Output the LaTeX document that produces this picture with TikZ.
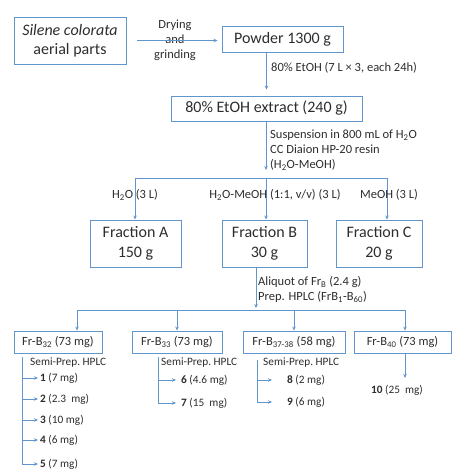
\documentclass[tikz,border=0pt]{standalone}
\usepackage{fontspec}
\setmainfont{Carlito}
\usetikzlibrary{arrows.meta}
\definecolor{bl}{RGB}{96,150,205}
\definecolor{tx}{RGB}{45,45,45}
\tikzset{
  box/.style={draw=bl, line width=0.9pt, text=tx, align=center, inner sep=0pt},
  big/.style={font=\fontsize{16}{19.5}\selectfont},
  mid/.style={font=\fontsize{12.5}{14}\selectfont},
  lab/.style={text=tx, font=\fontsize{12.5}{15}\selectfont, inner sep=0pt},
  sm/.style={text=tx, font=\fontsize{11.3}{13}\selectfont, inner sep=0pt},
  ln/.style={draw=bl, line width=0.7pt},
  arr/.style={ln, -{Stealth[length=4pt,width=3.5pt]}},
}
\begin{document}
\begin{tikzpicture}[x=1pt,y=-1pt]
\useasboundingbox (0,0) rectangle (452,469);
% main boxes
\node[box,big,minimum width=112pt,minimum height=47pt] (sil) at (70,40.5) {\textit{Silene colorata}\\aerial parts};
\node[box,big,minimum width=121pt,minimum height=26pt] (pow) at (282.5,39) {Powder 1300 g};
\node[box,big,minimum width=191pt,minimum height=25pt] (ext) at (266.5,108.5) {80\% EtOH extract (240 g)};
\node[box,big,minimum width=91pt,minimum height=47pt] (fa) at (135.5,243.5) {Fraction A\\150 g};
\node[box,big,minimum width=85pt,minimum height=47pt] (fb) at (264.5,243.5) {Fraction B\\30 g};
\node[box,big,minimum width=86pt,minimum height=47pt] (fc) at (379,243.5) {Fraction C\\20 g};
\node[box,mid,minimum width=88pt,minimum height=22pt] (b32) at (58,342) {Fr-B\textsubscript{32} (73 mg)};
\node[box,mid,minimum width=90pt,minimum height=22pt] (b33) at (177,342) {Fr-B\textsubscript{33} (73 mg)};
\node[box,mid,minimum width=102pt,minimum height=22pt] (b37) at (294,342) {Fr-B\textsubscript{37-38} (58 mg)};
\node[box,mid,minimum width=97pt,minimum height=22pt] (b40) at (402.5,342) {Fr-B\textsubscript{40} (73 mg)};

% step 1
\node[lab,align=center] (dry) at (175,40) {Drying\\and\\grinding};
\draw[arr,shorten <=11pt,shorten >=4pt] (sil.east) -- (sil.east -| pow.west);
% step 2
\draw[arr,shorten >=6pt] (pow.south -| ext.north) -- (ext.north);
\node[lab,anchor=west] (l2) at (271,68) {80\% EtOH (7 L × 3, each 24h)};
% step 3
\node[lab,anchor=west,align=left] (l3) at (270,150) {Suspension in 800 mL of H\textsubscript{2}O\\CC Diaion HP-20 resin\\(H\textsubscript{2}O-MeOH)};
\coordinate (barL) at (135,178);
\coordinate (barM) at (266,178);
\coordinate (barR) at (387,178);
\draw[arr,shorten >=8pt] (ext.south -| barM) -- (barM);
\draw[ln] (barL) -- (barR);
\draw[arr] (barL) -- (barL |- fa.north);
\draw[arr] (barM) -- (barM |- fb.north);
\draw[arr] (barR) -- (barR |- fc.north);
\node[lab] (la) at (135,195) {H\textsubscript{2}O (3 L)};
\node[lab] (lb) at (275,195) {H\textsubscript{2}O-MeOH (1:1, v/v) (3 L)};
\node[lab] (lc) at (389,195) {MeOH (3 L)};
% step 4
\coordinate (bar2M) at (256,310);
\coordinate (c1) at (77,310);
\coordinate (c2) at (177,310);
\coordinate (c3) at (294,310);
\coordinate (c4) at (405,310);
\draw[arr,shorten >=2pt] (fb.south -| bar2M) -- (bar2M);
\draw[ln] (c1) -- (c4);
\draw[arr] (c1) -- (c1 |- b32.north);
\draw[arr] (c2) -- (c2 |- b33.north);
\draw[arr] (c3) -- (c3 |- b37.north);
\draw[arr] (c4) -- (c4 |- b40.north);
\node[lab,anchor=west,align=left] (l4) at (258,289.5) {Aliquot of Fr\textsubscript{B} (2.4 g)\\Prep. HPLC (FrB\textsubscript{1}-B\textsubscript{60})};

% B32 branch
\node[sm,anchor=west] (s1) at (30,363) {Semi-Prep.\ HPLC};
\coordinate (v1) at (22,357);
\node[sm,anchor=west] (i1) at (40,378) {\textbf{1} (7 mg)};
\node[sm,anchor=west] (i2) at (40,399) {\textbf{2} (2.3\ \ mg)};
\node[sm,anchor=west] (i3) at (40,420) {\textbf{3} (10 mg)};
\node[sm,anchor=west] (i4) at (40,440) {\textbf{4} (6 mg)};
\node[sm,anchor=west] (i5) at (40,464) {\textbf{5} (7 mg)};
\draw[arr,shorten >=2pt] (v1) |- (i5.west);
\foreach \i in {i1,i2,i3,i4} \draw[arr,shorten >=2pt] (v1 |- \i.west) -- (\i.west);

% B33 branch
\node[sm,anchor=west] (s2) at (161,363) {Semi-Prep.\ HPLC};
\coordinate (v2) at (158,357);
\node[sm,anchor=west] (i6) at (181,380) {\textbf{6} (4.6 mg)};
\node[sm,anchor=west] (i7) at (181,403) {\textbf{7} (15\ \ mg)};
\draw[arr,shorten >=5pt] (v2) |- (i7.west);
\draw[arr,shorten >=5pt] (v2 |- i6.west) -- (i6.west);

% B37-38 branch
\node[sm,anchor=west] (s3) at (263,363) {Semi-Prep.\ HPLC};
\coordinate (v3) at (257,360);
\node[sm,anchor=west] (i8) at (287,380) {\textbf{8} (2 mg)};
\node[sm,anchor=west] (i9) at (287,402) {\textbf{9} (6 mg)};
\draw[arr,shorten >=15pt] (v3) |- (i9.west);
\draw[arr,shorten >=15pt] (v3 |- i8.west) -- (i8.west);

% B40 branch
\node[sm] (i10) at (397,390) {\textbf{10} (25\ \ mg)};
\coordinate (e40) at (405,378);
\draw[arr] (b40.south -| e40) -- (e40);
\end{tikzpicture}
\end{document}
